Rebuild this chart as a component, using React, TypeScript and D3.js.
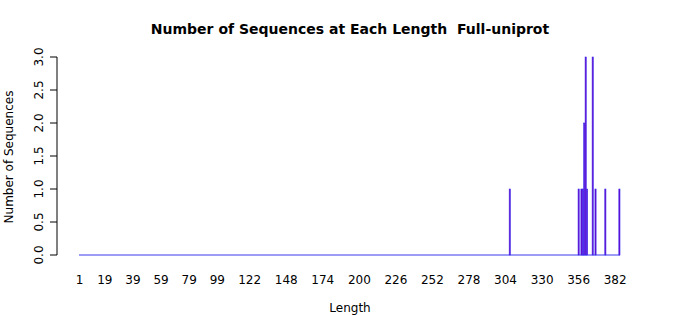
import React from "react";
import * as d3 from "d3";

const LENGTH_MIN = 1;
const LENGTH_MAX = 385;
const barLengths = [307, 356, 358, 359, 360, 361, 362, 366, 368, 375, 385];
const barCounts = [1, 1, 1, 1, 2, 3, 1, 3, 1, 1, 1];
const xTickLabels = [1, 19, 39, 59, 79, 99, 122, 148, 174, 200, 226, 252, 278, 304, 330, 356, 382];
const yTicks = [0, 0.5, 1, 1.5, 2, 2.5, 3];
const title = "Number of Sequences at Each Length  Full-uniprot";
const xTitle = "Length";
const yTitle = "Number of Sequences";

const W = 700;
const H = 315;
const FONT = "DejaVu Sans, sans-serif";

export default function App() {
  const lengths = d3.range(LENGTH_MIN, LENGTH_MAX + 1);
  const countMap = new Map<number, number>();
  barLengths.forEach((l, i) => countMap.set(l, barCounts[i]));
  const data = lengths.map((l) => ({ len: l, count: countMap.get(l) ?? 0 }));

  const x = d3
    .scaleBand<number>()
    .domain(lengths)
    .range([79, 620])
    .paddingInner(0.2 / 1.2)
    .paddingOuter(0);
  const y = d3.scaleLinear().domain([0, 3]).range([255, 57]);
  const bw = x.bandwidth();
  const axisX = 57;

  return (
    <svg width={W} height={H} style={{ position: "absolute", left: 0, top: 0 }}>
      <rect x={0} y={0} width={W} height={H} fill="#ffffff" />
      <text
        x={350}
        y={34}
        textAnchor="middle"
        fontFamily={FONT}
        fontWeight="bold"
        fontSize={14}
        style={{ whiteSpace: "pre" }}
      >
        {title}
      </text>
      {/* baseline of zero-height bars */}
      <line
        x1={x(LENGTH_MIN)!}
        x2={x(LENGTH_MAX)! + bw}
        y1={y(0)}
        y2={y(0)}
        stroke="#3b3bf0"
        strokeWidth={1}
      />
      {data
        .filter((d) => d.count > 0)
        .map((d) => (
          <rect
            key={d.len}
            x={x(d.len)!}
            y={y(d.count)}
            width={bw}
            height={y(0) - y(d.count)}
            fill="#7000c4"
            stroke="#3a2cf0"
            strokeWidth={0.6}
          />
        ))}
      {/* y axis */}
      <line x1={axisX} x2={axisX} y1={y(0)} y2={y(3)} stroke="#000" strokeWidth={1} />
      {yTicks.map((t) => (
        <g key={t}>
          <line x1={axisX - 7} x2={axisX} y1={y(t)} y2={y(t)} stroke="#000" strokeWidth={1} />
          <text
            transform={`translate(${axisX - 14},${y(t)}) rotate(-90)`}
            textAnchor="middle"
            fontFamily={FONT}
            fontSize={12}
            fill="#000"
          >
            {t.toFixed(1)}
          </text>
        </g>
      ))}
      {xTickLabels.map((t) => (
        <text
          key={t}
          x={x(t)! + bw / 2}
          y={284}
          textAnchor="middle"
          fontFamily={FONT}
          fontSize={12}
          fill="#000"
        >
          {t}
        </text>
      ))}
      <text x={350} y={312} textAnchor="middle" fontFamily={FONT} fontSize={12} fill="#000">
        {xTitle}
      </text>
      <text
        transform={`translate(13,157) rotate(-90)`}
        textAnchor="middle"
        fontFamily={FONT}
        fontSize={12}
        fill="#000"
      >
        {yTitle}
      </text>
    </svg>
  );
}
